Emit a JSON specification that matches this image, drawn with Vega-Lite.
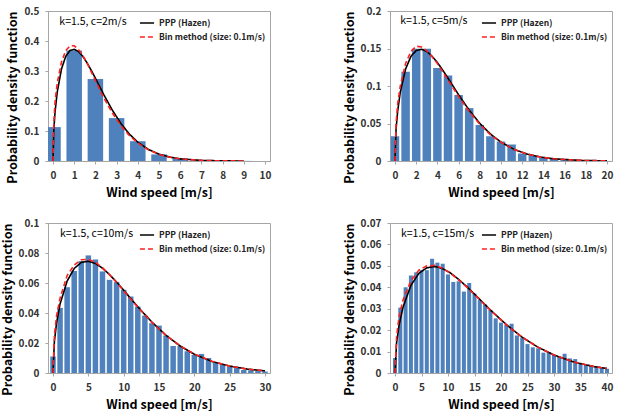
{
  "$schema": "https://vega.github.io/schema/vega-lite/v6.json",
  "background": "white",
  "padding": {"left": 0, "top": 5, "right": 0, "bottom": 0},
  "bounds": "flush",
  "datasets": {
    "bars": [
      {"p": "c2", "x": 0, "y": 0.113}, {"p": "c2", "x": 1, "y": 0.368}, {"p": "c2", "x": 2, "y": 0.273}, {"p": "c2", "x": 3, "y": 0.143}, {"p": "c2", "x": 4, "y": 0.066}, {"p": "c2", "x": 5, "y": 0.022}, {"p": "c2", "x": 6, "y": 0.008}, {"p": "c2", "x": 7, "y": 0.003}, {"p": "c2", "x": 8, "y": 0.001}, {"p": "c2", "x": 9, "y": 0.0004},
      {"p": "c5", "x": 0, "y": 0.033}, {"p": "c5", "x": 1, "y": 0.119}, {"p": "c5", "x": 2, "y": 0.1496}, {"p": "c5", "x": 3, "y": 0.1496}, {"p": "c5", "x": 4, "y": 0.124}, {"p": "c5", "x": 5, "y": 0.114}, {"p": "c5", "x": 6, "y": 0.088}, {"p": "c5", "x": 7, "y": 0.0705}, {"p": "c5", "x": 8, "y": 0.048}, {"p": "c5", "x": 9, "y": 0.033}, {"p": "c5", "x": 10, "y": 0.026}, {"p": "c5", "x": 11, "y": 0.022}, {"p": "c5", "x": 12, "y": 0.010}, {"p": "c5", "x": 13, "y": 0.007}, {"p": "c5", "x": 14, "y": 0.0045}, {"p": "c5", "x": 15, "y": 0.003}, {"p": "c5", "x": 16, "y": 0.002}, {"p": "c5", "x": 17, "y": 0.001}, {"p": "c5", "x": 18, "y": 0.0006}, {"p": "c5", "x": 19, "y": 0.0003}, {"p": "c5", "x": 20, "y": 0.0001},
      {"p": "c10", "x": 0, "y": 0.011}, {"p": "c10", "x": 1, "y": 0.0434}, {"p": "c10", "x": 2, "y": 0.0572}, {"p": "c10", "x": 3, "y": 0.068}, {"p": "c10", "x": 4, "y": 0.0746}, {"p": "c10", "x": 5, "y": 0.0784}, {"p": "c10", "x": 6, "y": 0.0757}, {"p": "c10", "x": 7, "y": 0.0677}, {"p": "c10", "x": 8, "y": 0.0621}, {"p": "c10", "x": 9, "y": 0.0606}, {"p": "c10", "x": 10, "y": 0.0555}, {"p": "c10", "x": 11, "y": 0.051}, {"p": "c10", "x": 12, "y": 0.0443}, {"p": "c10", "x": 13, "y": 0.0383}, {"p": "c10", "x": 14, "y": 0.0332}, {"p": "c10", "x": 15, "y": 0.0316}, {"p": "c10", "x": 16, "y": 0.025}, {"p": "c10", "x": 17, "y": 0.018}, {"p": "c10", "x": 18, "y": 0.018}, {"p": "c10", "x": 19, "y": 0.0145}, {"p": "c10", "x": 20, "y": 0.012}, {"p": "c10", "x": 21, "y": 0.0127}, {"p": "c10", "x": 22, "y": 0.010}, {"p": "c10", "x": 23, "y": 0.0071}, {"p": "c10", "x": 24, "y": 0.0056}, {"p": "c10", "x": 25, "y": 0.0042}, {"p": "c10", "x": 26, "y": 0.0033}, {"p": "c10", "x": 27, "y": 0.002}, {"p": "c10", "x": 28, "y": 0.0018}, {"p": "c10", "x": 29, "y": 0.0013}, {"p": "c10", "x": 30, "y": 0.001},
      {"p": "c15", "x": 0, "y": 0.007}, {"p": "c15", "x": 1, "y": 0.0305}, {"p": "c15", "x": 2, "y": 0.040}, {"p": "c15", "x": 3, "y": 0.0455}, {"p": "c15", "x": 4, "y": 0.047}, {"p": "c15", "x": 5, "y": 0.048}, {"p": "c15", "x": 6, "y": 0.048}, {"p": "c15", "x": 7, "y": 0.0533}, {"p": "c15", "x": 8, "y": 0.0515}, {"p": "c15", "x": 9, "y": 0.051}, {"p": "c15", "x": 10, "y": 0.046}, {"p": "c15", "x": 11, "y": 0.0425}, {"p": "c15", "x": 12, "y": 0.0428}, {"p": "c15", "x": 13, "y": 0.038}, {"p": "c15", "x": 14, "y": 0.042}, {"p": "c15", "x": 15, "y": 0.037}, {"p": "c15", "x": 16, "y": 0.034}, {"p": "c15", "x": 17, "y": 0.032}, {"p": "c15", "x": 18, "y": 0.0295}, {"p": "c15", "x": 19, "y": 0.0255}, {"p": "c15", "x": 20, "y": 0.0235}, {"p": "c15", "x": 21, "y": 0.0225}, {"p": "c15", "x": 22, "y": 0.023}, {"p": "c15", "x": 23, "y": 0.0175}, {"p": "c15", "x": 24, "y": 0.0165}, {"p": "c15", "x": 25, "y": 0.0135}, {"p": "c15", "x": 26, "y": 0.012}, {"p": "c15", "x": 27, "y": 0.0115}, {"p": "c15", "x": 28, "y": 0.0095}, {"p": "c15", "x": 29, "y": 0.0098}, {"p": "c15", "x": 30, "y": 0.0085}, {"p": "c15", "x": 31, "y": 0.0075}, {"p": "c15", "x": 32, "y": 0.009}, {"p": "c15", "x": 33, "y": 0.0068}, {"p": "c15", "x": 34, "y": 0.0065}, {"p": "c15", "x": 35, "y": 0.0042}, {"p": "c15", "x": 36, "y": 0.0038}, {"p": "c15", "x": 37, "y": 0.0035}, {"p": "c15", "x": 38, "y": 0.003}, {"p": "c15", "x": 39, "y": 0.0028}, {"p": "c15", "x": 40, "y": 0.002}
    ],
    "lines": [
      {"p": "c2", "s": "PPP (Hazen)", "x": 0, "y": 0}, {"p": "c2", "s": "PPP (Hazen)", "x": 0.04, "y": 0.1058}, {"p": "c2", "s": "PPP (Hazen)", "x": 0.1, "y": 0.1659}, {"p": "c2", "s": "PPP (Hazen)", "x": 0.2, "y": 0.2298}, {"p": "c2", "s": "PPP (Hazen)", "x": 0.4, "y": 0.3067}, {"p": "c2", "s": "PPP (Hazen)", "x": 0.6, "y": 0.3486}, {"p": "c2", "s": "PPP (Hazen)", "x": 0.8, "y": 0.3684}, {"p": "c2", "s": "PPP (Hazen)", "x": 1.0, "y": 0.3724}, {"p": "c2", "s": "PPP (Hazen)", "x": 1.2, "y": 0.365}, {"p": "c2", "s": "PPP (Hazen)", "x": 1.4, "y": 0.3494}, {"p": "c2", "s": "PPP (Hazen)", "x": 1.6, "y": 0.328}, {"p": "c2", "s": "PPP (Hazen)", "x": 1.8, "y": 0.303}, {"p": "c2", "s": "PPP (Hazen)", "x": 2.0, "y": 0.2759}, {"p": "c2", "s": "PPP (Hazen)", "x": 2.4, "y": 0.2207}, {"p": "c2", "s": "PPP (Hazen)", "x": 2.8, "y": 0.1693}, {"p": "c2", "s": "PPP (Hazen)", "x": 3.2, "y": 0.1254}, {"p": "c2", "s": "PPP (Hazen)", "x": 3.6, "y": 0.0899}, {"p": "c2", "s": "PPP (Hazen)", "x": 4.0, "y": 0.0627}, {"p": "c2", "s": "PPP (Hazen)", "x": 4.5, "y": 0.0385}, {"p": "c2", "s": "PPP (Hazen)", "x": 5.0, "y": 0.0228}, {"p": "c2", "s": "PPP (Hazen)", "x": 5.5, "y": 0.013}, {"p": "c2", "s": "PPP (Hazen)", "x": 6.0, "y": 0.0072}, {"p": "c2", "s": "PPP (Hazen)", "x": 7.0, "y": 0.002}, {"p": "c2", "s": "PPP (Hazen)", "x": 8.0, "y": 0.0005}, {"p": "c2", "s": "PPP (Hazen)", "x": 9.0, "y": 0.0001},
      {"p": "c2", "s": "Bin method (size: 0.1m/s)", "x": 0, "y": 0}, {"p": "c2", "s": "Bin method (size: 0.1m/s)", "x": 0.04, "y": 0.13}, {"p": "c2", "s": "Bin method (size: 0.1m/s)", "x": 0.1, "y": 0.2}, {"p": "c2", "s": "Bin method (size: 0.1m/s)", "x": 0.2, "y": 0.26}, {"p": "c2", "s": "Bin method (size: 0.1m/s)", "x": 0.4, "y": 0.33}, {"p": "c2", "s": "Bin method (size: 0.1m/s)", "x": 0.6, "y": 0.368}, {"p": "c2", "s": "Bin method (size: 0.1m/s)", "x": 0.8, "y": 0.384}, {"p": "c2", "s": "Bin method (size: 0.1m/s)", "x": 1.0, "y": 0.384}, {"p": "c2", "s": "Bin method (size: 0.1m/s)", "x": 1.2, "y": 0.372}, {"p": "c2", "s": "Bin method (size: 0.1m/s)", "x": 1.4, "y": 0.352}, {"p": "c2", "s": "Bin method (size: 0.1m/s)", "x": 1.6, "y": 0.327}, {"p": "c2", "s": "Bin method (size: 0.1m/s)", "x": 1.8, "y": 0.298}, {"p": "c2", "s": "Bin method (size: 0.1m/s)", "x": 2.0, "y": 0.268}, {"p": "c2", "s": "Bin method (size: 0.1m/s)", "x": 2.4, "y": 0.21}, {"p": "c2", "s": "Bin method (size: 0.1m/s)", "x": 2.8, "y": 0.16}, {"p": "c2", "s": "Bin method (size: 0.1m/s)", "x": 3.2, "y": 0.118}, {"p": "c2", "s": "Bin method (size: 0.1m/s)", "x": 3.6, "y": 0.085}, {"p": "c2", "s": "Bin method (size: 0.1m/s)", "x": 4.0, "y": 0.06}, {"p": "c2", "s": "Bin method (size: 0.1m/s)", "x": 4.5, "y": 0.037}, {"p": "c2", "s": "Bin method (size: 0.1m/s)", "x": 5.0, "y": 0.022}, {"p": "c2", "s": "Bin method (size: 0.1m/s)", "x": 5.5, "y": 0.013}, {"p": "c2", "s": "Bin method (size: 0.1m/s)", "x": 6.0, "y": 0.007}, {"p": "c2", "s": "Bin method (size: 0.1m/s)", "x": 7.0, "y": 0.002}, {"p": "c2", "s": "Bin method (size: 0.1m/s)", "x": 8.0, "y": 0.0005}, {"p": "c2", "s": "Bin method (size: 0.1m/s)", "x": 9.0, "y": 0.0001},

      {"p": "c5", "s": "PPP (Hazen)", "x": 0, "y": 0}, {"p": "c5", "s": "PPP (Hazen)", "x": 0.1, "y": 0.0423}, {"p": "c5", "s": "PPP (Hazen)", "x": 0.25, "y": 0.0663}, {"p": "c5", "s": "PPP (Hazen)", "x": 0.5, "y": 0.0919}, {"p": "c5", "s": "PPP (Hazen)", "x": 1, "y": 0.1227}, {"p": "c5", "s": "PPP (Hazen)", "x": 1.5, "y": 0.1394}, {"p": "c5", "s": "PPP (Hazen)", "x": 2, "y": 0.1473}, {"p": "c5", "s": "PPP (Hazen)", "x": 2.5, "y": 0.149}, {"p": "c5", "s": "PPP (Hazen)", "x": 3, "y": 0.146}, {"p": "c5", "s": "PPP (Hazen)", "x": 3.5, "y": 0.1397}, {"p": "c5", "s": "PPP (Hazen)", "x": 4, "y": 0.1312}, {"p": "c5", "s": "PPP (Hazen)", "x": 4.5, "y": 0.1212}, {"p": "c5", "s": "PPP (Hazen)", "x": 5, "y": 0.1104}, {"p": "c5", "s": "PPP (Hazen)", "x": 6, "y": 0.0883}, {"p": "c5", "s": "PPP (Hazen)", "x": 7, "y": 0.0677}, {"p": "c5", "s": "PPP (Hazen)", "x": 8, "y": 0.0501}, {"p": "c5", "s": "PPP (Hazen)", "x": 9, "y": 0.036}, {"p": "c5", "s": "PPP (Hazen)", "x": 10, "y": 0.0251}, {"p": "c5", "s": "PPP (Hazen)", "x": 11.25, "y": 0.0154}, {"p": "c5", "s": "PPP (Hazen)", "x": 12.5, "y": 0.0091}, {"p": "c5", "s": "PPP (Hazen)", "x": 13.75, "y": 0.0052}, {"p": "c5", "s": "PPP (Hazen)", "x": 15, "y": 0.0029}, {"p": "c5", "s": "PPP (Hazen)", "x": 17.5, "y": 0.0008}, {"p": "c5", "s": "PPP (Hazen)", "x": 20, "y": 0.0002},
      {"p": "c5", "s": "Bin method (size: 0.1m/s)", "x": 0, "y": 0}, {"p": "c5", "s": "Bin method (size: 0.1m/s)", "x": 0.1, "y": 0.05}, {"p": "c5", "s": "Bin method (size: 0.1m/s)", "x": 0.25, "y": 0.076}, {"p": "c5", "s": "Bin method (size: 0.1m/s)", "x": 0.5, "y": 0.1}, {"p": "c5", "s": "Bin method (size: 0.1m/s)", "x": 1, "y": 0.13}, {"p": "c5", "s": "Bin method (size: 0.1m/s)", "x": 1.5, "y": 0.146}, {"p": "c5", "s": "Bin method (size: 0.1m/s)", "x": 2, "y": 0.153}, {"p": "c5", "s": "Bin method (size: 0.1m/s)", "x": 2.5, "y": 0.152}, {"p": "c5", "s": "Bin method (size: 0.1m/s)", "x": 3, "y": 0.147}, {"p": "c5", "s": "Bin method (size: 0.1m/s)", "x": 3.5, "y": 0.139}, {"p": "c5", "s": "Bin method (size: 0.1m/s)", "x": 4, "y": 0.13}, {"p": "c5", "s": "Bin method (size: 0.1m/s)", "x": 4.5, "y": 0.119}, {"p": "c5", "s": "Bin method (size: 0.1m/s)", "x": 5, "y": 0.108}, {"p": "c5", "s": "Bin method (size: 0.1m/s)", "x": 6, "y": 0.086}, {"p": "c5", "s": "Bin method (size: 0.1m/s)", "x": 7, "y": 0.066}, {"p": "c5", "s": "Bin method (size: 0.1m/s)", "x": 8, "y": 0.049}, {"p": "c5", "s": "Bin method (size: 0.1m/s)", "x": 9, "y": 0.035}, {"p": "c5", "s": "Bin method (size: 0.1m/s)", "x": 10, "y": 0.025}, {"p": "c5", "s": "Bin method (size: 0.1m/s)", "x": 11.25, "y": 0.0153}, {"p": "c5", "s": "Bin method (size: 0.1m/s)", "x": 12.5, "y": 0.009}, {"p": "c5", "s": "Bin method (size: 0.1m/s)", "x": 13.75, "y": 0.0052}, {"p": "c5", "s": "Bin method (size: 0.1m/s)", "x": 15, "y": 0.0029}, {"p": "c5", "s": "Bin method (size: 0.1m/s)", "x": 17.5, "y": 0.0008}, {"p": "c5", "s": "Bin method (size: 0.1m/s)", "x": 20, "y": 0.0002},

      {"p": "c10", "s": "PPP (Hazen)", "x": 0, "y": 0}, {"p": "c10", "s": "PPP (Hazen)", "x": 0.2, "y": 0.0212}, {"p": "c10", "s": "PPP (Hazen)", "x": 0.5, "y": 0.0332}, {"p": "c10", "s": "PPP (Hazen)", "x": 1, "y": 0.046}, {"p": "c10", "s": "PPP (Hazen)", "x": 2, "y": 0.0613}, {"p": "c10", "s": "PPP (Hazen)", "x": 3, "y": 0.0697}, {"p": "c10", "s": "PPP (Hazen)", "x": 4, "y": 0.0737}, {"p": "c10", "s": "PPP (Hazen)", "x": 5, "y": 0.0745}, {"p": "c10", "s": "PPP (Hazen)", "x": 6, "y": 0.073}, {"p": "c10", "s": "PPP (Hazen)", "x": 7, "y": 0.0699}, {"p": "c10", "s": "PPP (Hazen)", "x": 8, "y": 0.0656}, {"p": "c10", "s": "PPP (Hazen)", "x": 9, "y": 0.0606}, {"p": "c10", "s": "PPP (Hazen)", "x": 10, "y": 0.0552}, {"p": "c10", "s": "PPP (Hazen)", "x": 12, "y": 0.0441}, {"p": "c10", "s": "PPP (Hazen)", "x": 14, "y": 0.0339}, {"p": "c10", "s": "PPP (Hazen)", "x": 16, "y": 0.0251}, {"p": "c10", "s": "PPP (Hazen)", "x": 18, "y": 0.018}, {"p": "c10", "s": "PPP (Hazen)", "x": 20, "y": 0.0125}, {"p": "c10", "s": "PPP (Hazen)", "x": 22.5, "y": 0.0077}, {"p": "c10", "s": "PPP (Hazen)", "x": 25, "y": 0.0046}, {"p": "c10", "s": "PPP (Hazen)", "x": 27.5, "y": 0.0026}, {"p": "c10", "s": "PPP (Hazen)", "x": 30, "y": 0.0014},
      {"p": "c10", "s": "Bin method (size: 0.1m/s)", "x": 0, "y": 0}, {"p": "c10", "s": "Bin method (size: 0.1m/s)", "x": 0.2, "y": 0.025}, {"p": "c10", "s": "Bin method (size: 0.1m/s)", "x": 0.5, "y": 0.038}, {"p": "c10", "s": "Bin method (size: 0.1m/s)", "x": 1, "y": 0.05}, {"p": "c10", "s": "Bin method (size: 0.1m/s)", "x": 2, "y": 0.065}, {"p": "c10", "s": "Bin method (size: 0.1m/s)", "x": 3, "y": 0.072}, {"p": "c10", "s": "Bin method (size: 0.1m/s)", "x": 4, "y": 0.0755}, {"p": "c10", "s": "Bin method (size: 0.1m/s)", "x": 5, "y": 0.0758}, {"p": "c10", "s": "Bin method (size: 0.1m/s)", "x": 6, "y": 0.0738}, {"p": "c10", "s": "Bin method (size: 0.1m/s)", "x": 7, "y": 0.0702}, {"p": "c10", "s": "Bin method (size: 0.1m/s)", "x": 8, "y": 0.0655}, {"p": "c10", "s": "Bin method (size: 0.1m/s)", "x": 9, "y": 0.0603}, {"p": "c10", "s": "Bin method (size: 0.1m/s)", "x": 10, "y": 0.0548}, {"p": "c10", "s": "Bin method (size: 0.1m/s)", "x": 12, "y": 0.0438}, {"p": "c10", "s": "Bin method (size: 0.1m/s)", "x": 14, "y": 0.0337}, {"p": "c10", "s": "Bin method (size: 0.1m/s)", "x": 16, "y": 0.025}, {"p": "c10", "s": "Bin method (size: 0.1m/s)", "x": 18, "y": 0.018}, {"p": "c10", "s": "Bin method (size: 0.1m/s)", "x": 20, "y": 0.0126}, {"p": "c10", "s": "Bin method (size: 0.1m/s)", "x": 22.5, "y": 0.0078}, {"p": "c10", "s": "Bin method (size: 0.1m/s)", "x": 25, "y": 0.0046}, {"p": "c10", "s": "Bin method (size: 0.1m/s)", "x": 27.5, "y": 0.0026}, {"p": "c10", "s": "Bin method (size: 0.1m/s)", "x": 30, "y": 0.0014},

      {"p": "c15", "s": "PPP (Hazen)", "x": 0, "y": 0}, {"p": "c15", "s": "PPP (Hazen)", "x": 0.3, "y": 0.0141}, {"p": "c15", "s": "PPP (Hazen)", "x": 0.75, "y": 0.0221}, {"p": "c15", "s": "PPP (Hazen)", "x": 1.5, "y": 0.0306}, {"p": "c15", "s": "PPP (Hazen)", "x": 3, "y": 0.0409}, {"p": "c15", "s": "PPP (Hazen)", "x": 4.5, "y": 0.0465}, {"p": "c15", "s": "PPP (Hazen)", "x": 6, "y": 0.0491}, {"p": "c15", "s": "PPP (Hazen)", "x": 7.5, "y": 0.0497}, {"p": "c15", "s": "PPP (Hazen)", "x": 9, "y": 0.0487}, {"p": "c15", "s": "PPP (Hazen)", "x": 10.5, "y": 0.0466}, {"p": "c15", "s": "PPP (Hazen)", "x": 12, "y": 0.0437}, {"p": "c15", "s": "PPP (Hazen)", "x": 13.5, "y": 0.0404}, {"p": "c15", "s": "PPP (Hazen)", "x": 15, "y": 0.0368}, {"p": "c15", "s": "PPP (Hazen)", "x": 18, "y": 0.0294}, {"p": "c15", "s": "PPP (Hazen)", "x": 21, "y": 0.0226}, {"p": "c15", "s": "PPP (Hazen)", "x": 24, "y": 0.0167}, {"p": "c15", "s": "PPP (Hazen)", "x": 27, "y": 0.012}, {"p": "c15", "s": "PPP (Hazen)", "x": 30, "y": 0.0084}, {"p": "c15", "s": "PPP (Hazen)", "x": 33.75, "y": 0.0051}, {"p": "c15", "s": "PPP (Hazen)", "x": 37.5, "y": 0.003}, {"p": "c15", "s": "PPP (Hazen)", "x": 40, "y": 0.0021},
      {"p": "c15", "s": "Bin method (size: 0.1m/s)", "x": 0, "y": 0}, {"p": "c15", "s": "Bin method (size: 0.1m/s)", "x": 0.3, "y": 0.017}, {"p": "c15", "s": "Bin method (size: 0.1m/s)", "x": 0.75, "y": 0.026}, {"p": "c15", "s": "Bin method (size: 0.1m/s)", "x": 1.5, "y": 0.034}, {"p": "c15", "s": "Bin method (size: 0.1m/s)", "x": 3, "y": 0.043}, {"p": "c15", "s": "Bin method (size: 0.1m/s)", "x": 4.5, "y": 0.048}, {"p": "c15", "s": "Bin method (size: 0.1m/s)", "x": 6, "y": 0.05}, {"p": "c15", "s": "Bin method (size: 0.1m/s)", "x": 7.5, "y": 0.0502}, {"p": "c15", "s": "Bin method (size: 0.1m/s)", "x": 9, "y": 0.0488}, {"p": "c15", "s": "Bin method (size: 0.1m/s)", "x": 10.5, "y": 0.0465}, {"p": "c15", "s": "Bin method (size: 0.1m/s)", "x": 12, "y": 0.0435}, {"p": "c15", "s": "Bin method (size: 0.1m/s)", "x": 13.5, "y": 0.0402}, {"p": "c15", "s": "Bin method (size: 0.1m/s)", "x": 15, "y": 0.0366}, {"p": "c15", "s": "Bin method (size: 0.1m/s)", "x": 18, "y": 0.0293}, {"p": "c15", "s": "Bin method (size: 0.1m/s)", "x": 21, "y": 0.0225}, {"p": "c15", "s": "Bin method (size: 0.1m/s)", "x": 24, "y": 0.0167}, {"p": "c15", "s": "Bin method (size: 0.1m/s)", "x": 27, "y": 0.012}, {"p": "c15", "s": "Bin method (size: 0.1m/s)", "x": 30, "y": 0.0084}, {"p": "c15", "s": "Bin method (size: 0.1m/s)", "x": 33.75, "y": 0.0051}, {"p": "c15", "s": "Bin method (size: 0.1m/s)", "x": 37.5, "y": 0.003}, {"p": "c15", "s": "Bin method (size: 0.1m/s)", "x": 40, "y": 0.0021}
    ]
  },
  "columns": 2,
  "spacing": {"row": 62, "column": 120},
  "concat": [
    {
      "width": 222, "height": 150,
      "encoding": {
        "x": {"field": "x", "type": "quantitative", "scale": {"domain": [0, 10], "nice": false}, "axis": {"values": [0,1,2,3,4,5,6,7,8,9,10], "labelOverlap": false, "title": "Wind speed [m/s]"}},
        "y": {"field": "y", "type": "quantitative", "scale": {"domain": [0, 0.5], "nice": false}, "axis": {"values": [0,0.1,0.2,0.3,0.4,0.5], "labelOverlap": false, "format": "~g", "title": "Probability density function"}}
      },
      "layer": [
        {"data": {"name": "bars"}, "transform": [{"filter": "datum.p == 'c2'"}],
         "mark": {"type": "bar", "width": 15.5, "clip": true, "color": "#4F81BD"}},
        {"data": {"name": "lines"}, "transform": [{"filter": "datum.p == 'c2'"}],
         "mark": {"type": "line", "strokeWidth": 1.6, "clip": true},
         "encoding": {
           "color": {"field": "s", "type": "nominal", "scale": {"domain": ["PPP (Hazen)", "Bin method (size: 0.1m/s)"], "range": ["#000000", "#FF2020"]}, "legend": {"title": null}},
           "strokeDash": {"field": "s", "type": "nominal", "scale": {"domain": ["PPP (Hazen)", "Bin method (size: 0.1m/s)"], "range": [[1, 0], [5, 3]]}, "legend": {"title": null}}}},
        {"data": {"values": [{"x": 0.3, "y": 0.463, "t": "k=1.5, c=2m/s"}]}, "mark": {"type": "text", "align": "left", "baseline": "middle", "fontSize": 10.5},
         "encoding": {"text": {"field": "t"}}}
      ]
    },
    {
      "width": 222, "height": 150,
      "encoding": {
        "x": {"field": "x", "type": "quantitative", "scale": {"domain": [0, 20], "nice": false}, "axis": {"values": [0,2,4,6,8,10,12,14,16,18,20], "labelOverlap": false, "title": "Wind speed [m/s]"}},
        "y": {"field": "y", "type": "quantitative", "scale": {"domain": [0, 0.2], "nice": false}, "axis": {"values": [0,0.05,0.1,0.15,0.2], "labelOverlap": false, "format": "~g", "title": "Probability density function"}}
      },
      "layer": [
        {"data": {"name": "bars"}, "transform": [{"filter": "datum.p == 'c5'"}],
         "mark": {"type": "bar", "width": 8.5, "clip": true, "color": "#4F81BD"}},
        {"data": {"name": "lines"}, "transform": [{"filter": "datum.p == 'c5'"}],
         "mark": {"type": "line", "strokeWidth": 1.6, "clip": true},
         "encoding": {
           "color": {"field": "s", "type": "nominal", "scale": {"domain": ["PPP (Hazen)", "Bin method (size: 0.1m/s)"], "range": ["#000000", "#FF2020"]}, "legend": {"title": null}},
           "strokeDash": {"field": "s", "type": "nominal", "scale": {"domain": ["PPP (Hazen)", "Bin method (size: 0.1m/s)"], "range": [[1, 0], [5, 3]]}, "legend": {"title": null}}}},
        {"data": {"values": [{"x": 0.5, "y": 0.1866, "t": "k=1.5, c=5m/s"}]}, "mark": {"type": "text", "align": "left", "baseline": "middle", "fontSize": 10.5},
         "encoding": {"text": {"field": "t"}}}
      ]
    },
    {
      "width": 222, "height": 150,
      "encoding": {
        "x": {"field": "x", "type": "quantitative", "scale": {"domain": [0, 30], "nice": false}, "axis": {"values": [0,5,10,15,20,25,30], "labelOverlap": false, "title": "Wind speed [m/s]"}},
        "y": {"field": "y", "type": "quantitative", "scale": {"domain": [0, 0.1], "nice": false}, "axis": {"values": [0,0.02,0.04,0.06,0.08,0.1], "labelOverlap": false, "format": "~g", "title": "Probability density function"}}
      },
      "layer": [
        {"data": {"name": "bars"}, "transform": [{"filter": "datum.p == 'c10'"}],
         "mark": {"type": "bar", "width": 5.5, "clip": true, "color": "#4F81BD"}},
        {"data": {"name": "lines"}, "transform": [{"filter": "datum.p == 'c10'"}],
         "mark": {"type": "line", "strokeWidth": 1.6, "clip": true},
         "encoding": {
           "color": {"field": "s", "type": "nominal", "scale": {"domain": ["PPP (Hazen)", "Bin method (size: 0.1m/s)"], "range": ["#000000", "#FF2020"]}, "legend": {"title": null}},
           "strokeDash": {"field": "s", "type": "nominal", "scale": {"domain": ["PPP (Hazen)", "Bin method (size: 0.1m/s)"], "range": [[1, 0], [5, 3]]}, "legend": {"title": null}}}},
        {"data": {"values": [{"x": 1.0, "y": 0.0929, "t": "k=1.5, c=10m/s"}]}, "mark": {"type": "text", "align": "left", "baseline": "middle", "fontSize": 10.5},
         "encoding": {"text": {"field": "t"}}}
      ]
    },
    {
      "width": 222, "height": 150,
      "encoding": {
        "x": {"field": "x", "type": "quantitative", "scale": {"domain": [0, 40], "nice": false}, "axis": {"values": [0,5,10,15,20,25,30,35,40], "labelOverlap": false, "title": "Wind speed [m/s]"}},
        "y": {"field": "y", "type": "quantitative", "scale": {"domain": [0, 0.07], "nice": false}, "axis": {"values": [0,0.01,0.02,0.03,0.04,0.05,0.06,0.07], "labelOverlap": false, "format": "~g", "title": "Probability density function"}}
      },
      "layer": [
        {"data": {"name": "bars"}, "transform": [{"filter": "datum.p == 'c15'"}],
         "mark": {"type": "bar", "width": 4, "clip": true, "color": "#4F81BD"}},
        {"data": {"name": "lines"}, "transform": [{"filter": "datum.p == 'c15'"}],
         "mark": {"type": "line", "strokeWidth": 1.6, "clip": true},
         "encoding": {
           "color": {"field": "s", "type": "nominal", "scale": {"domain": ["PPP (Hazen)", "Bin method (size: 0.1m/s)"], "range": ["#000000", "#FF2020"]}, "legend": {"title": null}},
           "strokeDash": {"field": "s", "type": "nominal", "scale": {"domain": ["PPP (Hazen)", "Bin method (size: 0.1m/s)"], "range": [[1, 0], [5, 3]]}, "legend": {"title": null}}}},
        {"data": {"values": [{"x": 1.13, "y": 0.0647, "t": "k=1.5, c=15m/s"}]}, "mark": {"type": "text", "align": "left", "baseline": "middle", "fontSize": 10.5},
         "encoding": {"text": {"field": "t"}}}
      ]
    }
  ],
  "resolve": {
    "scale": {"color": "independent", "strokeDash": "independent", "x": "independent", "y": "independent"},
    "legend": {"color": "independent", "strokeDash": "independent"}
  },
  "config": {
    "font": "Noto Sans CJK KR",
    "view": {"stroke": "#A6A6A6", "strokeWidth": 1},
    "axis": {
      "grid": false,
      "domainColor": "#A6A6A6",
      "tickColor": "#A6A6A6",
      "tickSize": 3,
      "labelFontSize": 10,
      "labelFontWeight": "bold",
      "labelColor": "#333333",
      "labelPadding": 6,
      "labelOverlap": false,
      "labelFlush": false,
      "titleFontSize": 12.5,
      "titleFontWeight": "bold",
      "titleColor": "#000000",
      "titlePadding": 4
    },
    "axisY": {"titleAnchor": "end"},
    "axisX": {"labelPadding": 6, "titlePadding": 6},
    "legend": {
      "orient": "top-right",
      "symbolType": "stroke",
      "symbolSize": 200,
      "symbolStrokeWidth": 1.6,
      "labelFontSize": 8.5,
      "labelFontWeight": "bold",
      "labelColor": "#222222",
      "rowPadding": 1,
      "offset": 4,
      "padding": 0,
      "labelOffset": 4
    },
    "text": {"color": "#000000"}
  }
}
